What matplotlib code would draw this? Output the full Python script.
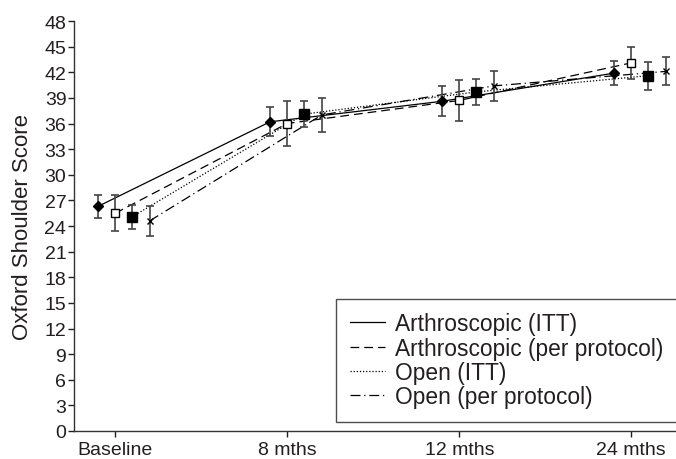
import numpy as np
import matplotlib
matplotlib.use("Agg")
import matplotlib.pyplot as plt
from matplotlib.lines import Line2D

# --- data ---
timepoints = ["Baseline", "8 mths", "12 mths", "24 mths"]

arth_itt      = [26.3, 36.2, 38.6, 41.9]
arth_itt_err  = [1.35, 1.7, 1.75, 1.45]
arth_pp       = [25.5, 36.0, 38.7, 43.1]
arth_pp_err   = [2.1, 2.6, 2.45, 1.9]
open_itt      = [25.1, 37.1, 39.7, 41.6]
open_itt_err  = [1.4, 1.5, 1.5, 1.65]
open_pp       = [24.6, 37.0, 40.4, 42.1]
open_pp_err   = [1.75, 1.95, 1.8, 1.65]

series = [
    ("Arthroscopic (ITT)",          arth_itt, arth_itt_err, "-",  "D", "k",     5.3),
    ("Arthroscopic (per protocol)", arth_pp,  arth_pp_err,  (0, (7, 4)), "s", "white", 6.0),
    ("Open (ITT)",                  open_itt, open_itt_err, (0, (1, 1.5)), "s", "k", 7.0),
    ("Open (per protocol)",         open_pp,  open_pp_err,  (0, (8, 3, 1, 3)), "x", "k", 4.0),
]
offsets = [-0.1, 0.0, 0.1, 0.2]

plt.rcParams["font.family"] = ["Liberation Sans", "DejaVu Sans"]
TXT = "#231f20"

fig = plt.figure(figsize=(6.76, 4.6), dpi=100)
ax = fig.add_axes([74 / 676, 1 - 432 / 460, 1 - 74 / 676, 410 / 460])

x = np.arange(len(timepoints))
for (name, vals, errs, ls, mk, fc, ms), off in zip(series, offsets):
    xs = x + off
    ax.plot(xs, vals, ls=ls, color="k", lw=0.9, zorder=2)
    ax.errorbar(xs, vals, yerr=errs, fmt="none", ecolor="#444444",
                elinewidth=1.2, capsize=2.6, capthick=1.2, zorder=3)
    ax.plot(xs, vals, ls="none", marker=mk, ms=ms, mfc=fc, mec="k",
            mew=1.0, zorder=4, clip_on=False)

ax.set_xlim(-0.24, 3.26)
ax.set_ylim(0, 48)
ax.set_xticks(x)
ax.set_xticklabels(timepoints)
ax.set_yticks(np.arange(0, 49, 3))
ax.tick_params(labelsize=14, colors=TXT, length=4.5, width=1, pad=1)
ax.tick_params(axis="x", pad=3)
for s in ["top", "right"]:
    ax.spines[s].set_visible(False)
for s in ["left", "bottom"]:
    ax.spines[s].set_color("#333333")
    ax.spines[s].set_linewidth(1.0)
ax.set_ylabel("Oxford Shoulder Score", fontsize=16, color=TXT)
ax.yaxis.set_label_coords(-0.068, 0.5)

handles = [Line2D([], [], color="k", lw=0.9, ls=s[3]) for s in series]
leg = ax.legend(handles, [s[0] for s in series], loc="lower left",
                bbox_to_anchor=(336 / 676, 1 - 423 / 460),
                bbox_transform=fig.transFigure, borderaxespad=0,
                fontsize=16.4, frameon=True, fancybox=False, edgecolor="#222222",
                handlelength=1.55, handletextpad=0.45, labelspacing=0.06,
                borderpad=0.6)
leg.get_frame().set_linewidth(1.0)
for t in leg.get_texts():
    t.set_color(TXT)

fig.savefig("out.png", dpi=100)
